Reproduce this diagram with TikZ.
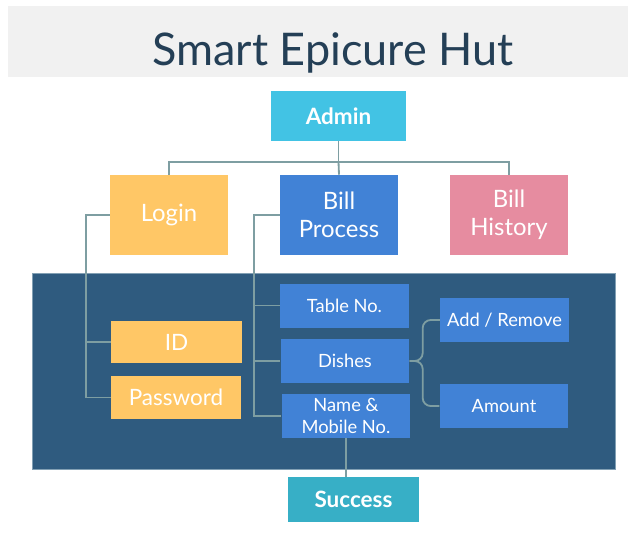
\documentclass[tikz,border=0pt]{standalone}
\usepackage{fontspec}
\setmainfont{Lato}
\usepackage{tikz}
\usetikzlibrary{
  arrows.meta,
  positioning,
  calc
}
\definecolor{BandGray}{RGB}{241,241,241}
\definecolor{TitleNavy}{RGB}{36,63,86}
\definecolor{AdminCyan}{RGB}{66,195,228}
\definecolor{LoginYellow}{RGB}{255,199,102}
\definecolor{BillBlue}{RGB}{65,130,214}
\definecolor{HistoryPink}{RGB}{230,140,160}
\definecolor{PanelNavy}{RGB}{47,91,127}
\definecolor{PanelEdge}{RGB}{130,160,180}
\definecolor{SuccessTeal}{RGB}{55,175,198}
\definecolor{LinkGray}{RGB}{126,158,162}
\tikzset{
  topnode/.style={fill=AdminCyan,minimum width=3.375cm,minimum height=1.25cm,align=center,text=white,font=\fontsize{16}{19}\selectfont\bfseries},
  loginnode/.style={fill=LoginYellow,minimum width=2.95cm,minimum height=2cm,align=center,text=white,font=\fontsize{17}{20}\selectfont},
  billnode/.style={loginnode,fill=BillBlue},
  historynode/.style={loginnode,fill=HistoryPink},
  credbox/.style={fill=LoginYellow,minimum width=3.25cm,minimum height=1.07cm,align=center,text=white,font=\fontsize{16}{19}\selectfont},
  itembox/.style={fill=BillBlue,minimum width=3.22cm,minimum height=1.1cm,inner sep=1pt,align=center,text=white,font=\fontsize{13}{16}\selectfont},
  successnode/.style={fill=SuccessTeal,minimum width=3.27cm,minimum height=1.12cm,align=center,text=white,font=\fontsize{16}{19}\selectfont\bfseries},
  link/.style={line width=1.3pt,draw=LinkGray}
}
\begin{document}
\begin{tikzpicture}[x=0.025cm,y=-0.025cm]
\useasboundingbox (0,0) rectangle (628,542);
% title band
\fill[BandGray] (8,6) rectangle (628,77);
\node[anchor=base,text=TitleNavy,font=\fontsize{32}{38}\selectfont] (title) at (333,65) {Smart Epicure Hut};
% dark panel
\filldraw[fill=PanelNavy,draw=PanelEdge,line width=0.6pt] (32,273) rectangle (615,469);
% boxes
\node[topnode] (admin) at (338.5,116) {Admin};
\node[loginnode] (login) at (169,215) {Login};
\node[billnode] (bill) at (339,215) {Bill\\Process};
\node[historynode] (history) at (509,215) {Bill\\History};
\node[credbox] (id) at (176.5,342) {ID};
\node[credbox] (pw) at (176,397.5) {Password};
\node[itembox] (table) at (344.5,305.5) {Table No.};
\node[itembox] (dishes) at (345,361) {Dishes};
\node[itembox] (name) at (346,416) {Name \&\\Mobile No.};
\node[itembox] (addrem) at (504.5,320) {Add / Remove};
\node[itembox] (amount) at (504,406) {Amount};
\node[successnode] (success) at (353.5,499.5) {Success};
% connectors
\coordinate (hub) at (338.5,162);
\draw[link] (admin) -- (hub);
\draw[link] (login.north) |- (hub) -| (history.north);
\draw[link] (hub) -- (bill.north);
\draw[link] (login.west) -- ++(-24,0) |- (id.west);
\draw[link] (login.west) -- ++(-24,0) |- (pw.west);
\draw[link] (bill.west) -- ++(-26,0) |- (table.west);
\draw[link] (bill.west) -- ++(-26,0) |- (dishes.west);
\draw[link] (bill.west) -- ++(-26,0) |- (name.west);
\draw[link,rounded corners=2mm] (dishes.east) -- ++(13,0) |- (addrem.west);
\draw[link,rounded corners=2mm] (dishes.east) -- ++(13,0) |- (amount.west);
\draw[link] (name.south) -- (name.south |- success.north);
\end{tikzpicture}
\end{document}
